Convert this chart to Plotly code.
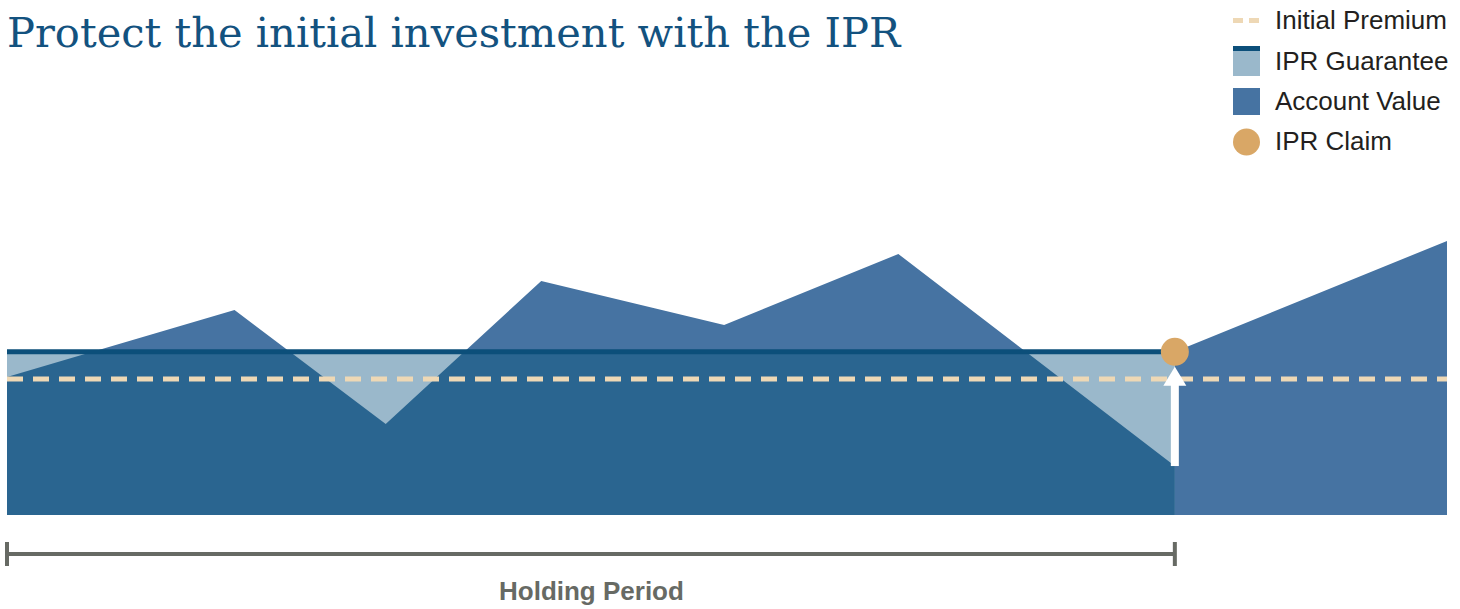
import plotly.graph_objects as go

# ---------------- data ----------------
# time in years, values as % of the initial premium
years = [0, 1.58, 2.63, 3.71, 4.98, 6.19, 8.11, 8.11, 10]
account_value = [101.5, 150.7, 66.9, 172.1, 139.7, 191.9, 36.0, 120.0, 201.5]
initial_premium = 100.0
ipr_guarantee = 120.0
claim_year = 8.11
claim_low = 36.0
legend_labels = ["Initial Premium", "IPR Guarantee", "Account Value", "IPR Claim"]
title_text = "Protect the initial investment with the IPR"
period_label = "Holding Period"

# ---------------- colours ----------------
C_ACC = "#4673a2"
C_DARK = "#2a6590"
C_LIGHT = "#9ab8cb"
C_GLINE = "#0c4f7a"
C_PREM = "#eed8b5"
C_CLAIM = "#d9a766"
C_BRACKET = "#676a64"
C_TITLE = "#13527f"
C_TEXT = "#231f20"

W, H = 1460, 609
# pixel-to-data geometry of the plot (margin 0)
X0_PX, PX_PER_YEAR = 7, 144.0
Y0_PX, PX_PER_UNIT = 515, 1.36
x_range = [-X0_PX / PX_PER_YEAR, (W - X0_PX) / PX_PER_YEAR]
y_range = [(Y0_PX - H) / PX_PER_UNIT, Y0_PX / PX_PER_UNIT]

def px(x):
    return x / W

def py(y):
    return 1 - y / H

# holding-period part of the account value (up to the claim)
n_hold = years.index(claim_year) + 1
hx, hy = years[:n_hold], account_value[:n_hold]

# account value clipped at the guarantee level
cx, cy = [], []
for i in range(len(hx)):
    cx.append(hx[i]); cy.append(min(hy[i], ipr_guarantee))
    if i + 1 < len(hx):
        a, b = hy[i] - ipr_guarantee, hy[i + 1] - ipr_guarantee
        if a * b < 0:
            t = a / (a - b)
            cx.append(hx[i] + t * (hx[i + 1] - hx[i])); cy.append(ipr_guarantee)

fig = go.Figure()
fig.add_trace(go.Scatter(x=years, y=account_value, mode="lines", fill="tozeroy",
                         fillcolor=C_ACC, line=dict(width=0, color=C_ACC),
                         hoverinfo="skip", showlegend=False))
fig.add_trace(go.Scatter(x=[0, claim_year], y=[ipr_guarantee, ipr_guarantee], mode="lines",
                         fill="tozeroy", fillcolor=C_LIGHT, line=dict(width=0, color=C_LIGHT),
                         hoverinfo="skip", showlegend=False))
fig.add_trace(go.Scatter(x=cx, y=cy, mode="lines", fill="tozeroy", fillcolor=C_DARK,
                         line=dict(width=0, color=C_DARK), hoverinfo="skip", showlegend=False))
fig.add_trace(go.Scatter(x=[0, claim_year], y=[ipr_guarantee, ipr_guarantee], mode="lines",
                         line=dict(width=5, color=C_GLINE), hoverinfo="skip", showlegend=False))
fig.add_trace(go.Scatter(x=[0, years[-1]], y=[initial_premium, initial_premium], mode="lines",
                         line=dict(width=5, color=C_PREM, dash="16px,10px"),
                         hoverinfo="skip", showlegend=False))

# arrow from the account low up to the claim point
head_h = 19 / PX_PER_UNIT
head_w = 23 / PX_PER_YEAR
tip = ipr_guarantee - 15 / PX_PER_UNIT
shapes = [
    dict(type="line", xref="x", yref="y", x0=claim_year, x1=claim_year,
         y0=claim_low, y1=tip - head_h + 1, line=dict(color="white", width=8), layer="above"),
    dict(type="path", xref="x", yref="y", layer="above", fillcolor="white", line=dict(width=0),
         path=f"M {claim_year - head_w/2},{tip - head_h} L {claim_year + head_w/2},{tip - head_h} "
              f"L {claim_year},{tip} Z"),
]
fig.add_trace(go.Scatter(x=[claim_year], y=[ipr_guarantee], mode="markers",
                         marker=dict(size=28, color=C_CLAIM, line=dict(width=0)),
                         hoverinfo="skip", showlegend=False))

# holding period bracket
yb = (Y0_PX - 554) / PX_PER_UNIT
yt0 = (Y0_PX - 542) / PX_PER_UNIT
yt1 = (Y0_PX - 566) / PX_PER_UNIT
for s in [dict(x0=0, x1=claim_year, y0=yb, y1=yb),
          dict(x0=0, x1=0, y0=yt0, y1=yt1),
          dict(x0=claim_year, x1=claim_year, y0=yt0, y1=yt1)]:
    shapes.append(dict(type="line", xref="x", yref="y", line=dict(color=C_BRACKET, width=4), **s))

# legend (drawn manually)
shapes += [
    dict(type="line", xref="paper", yref="paper", x0=px(1233), x1=px(1260), y0=py(20.5), y1=py(20.5),
         line=dict(color=C_PREM, width=5, dash="10px,6px")),
    dict(type="rect", xref="paper", yref="paper", x0=px(1233), x1=px(1260), y0=py(46), y1=py(76),
         fillcolor=C_LIGHT, line=dict(width=0)),
    dict(type="rect", xref="paper", yref="paper", x0=px(1233), x1=px(1260), y0=py(46), y1=py(51),
         fillcolor=C_GLINE, line=dict(width=0)),
    dict(type="rect", xref="paper", yref="paper", x0=px(1233), x1=px(1260), y0=py(88), y1=py(115),
         fillcolor=C_ACC, line=dict(width=0)),
    dict(type="circle", xref="paper", yref="paper", x0=px(1233), x1=px(1260), y0=py(128.5), y1=py(155.5),
         fillcolor=C_CLAIM, line=dict(width=0)),
]

annotations = [
    dict(text=title_text, xref="paper", yref="paper", x=px(5), y=py(32), xanchor="left",
         yanchor="middle", showarrow=False,
         font=dict(family="DejaVu Serif", size=41.6, color=C_TITLE)),
    dict(text=f"<b>{period_label}</b>", xref="paper", yref="paper", x=px(591), y=py(591),
         xanchor="center", yanchor="middle", showarrow=False,
         font=dict(family="Liberation Sans", size=26, color=C_BRACKET)),
]
for lab, yc in zip(legend_labels, [20.5, 61, 101.5, 141.5]):
    annotations.append(dict(text=lab, xref="paper", yref="paper", x=px(1273), y=py(yc - 0.5),
                            xanchor="left", yanchor="middle", showarrow=False,
                            font=dict(family="Liberation Sans", size=26, color=C_TEXT)))

fig.update_layout(
    width=W, height=H, margin=dict(l=0, r=0, t=0, b=0),
    paper_bgcolor="white", plot_bgcolor="white",
    xaxis=dict(range=x_range, visible=False, fixedrange=True),
    yaxis=dict(range=y_range, visible=False, fixedrange=True),
    shapes=shapes, annotations=annotations, showlegend=False,
)
fig.write_html("out.html", config={"displayModeBar": False})
